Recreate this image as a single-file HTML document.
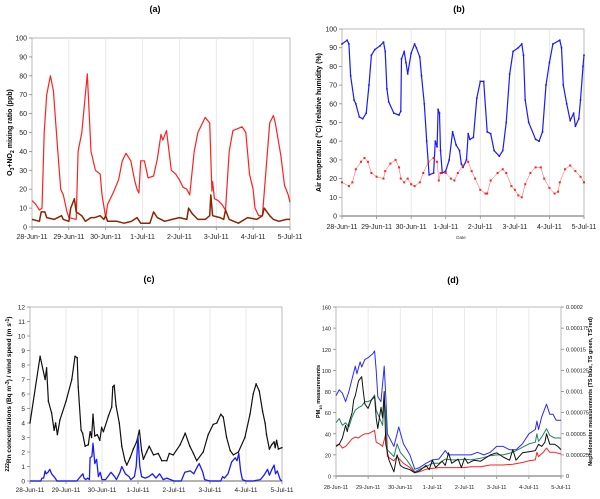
<!DOCTYPE html>
<html><head><meta charset="utf-8">
<style>
body{margin:0;background:#fff;width:600px;height:499px;overflow:hidden;font-family:"Liberation Sans",sans-serif;}
svg{display:block}
</style></head>
<body>
<svg id="fig" width="600" height="499" viewBox="0 0 600 499" xmlns="http://www.w3.org/2000/svg"></svg>
<script>
// ---- shared categories ----
const dayLabels = ["28-Jun-11","29-Jun-11","30-Jun-11","1-Jul-11","2-Jul-11","3-Jul-11","4-Jul-11","5-Jul-11"];

// ---- panel (a): O3 and NO2 (ppb) ----
const aTicks = [0,10,20,30,40,50,60,70,80,90,100];
const o3T = [0,.1,.2,.27,.33,.4,.5,.58,.7,.78,.85,.95,1.0,1.2,1.25,1.35,1.5,1.6,1.72,1.85,1.9,2.0,2.05,2.2,2.35,2.45,2.55,2.68,2.78,2.85,2.9,2.95,3.05,3.15,3.3,3.4,3.5,3.55,3.65,3.78,3.9,4.0,4.1,4.2,4.28,4.4,4.5,4.7,4.82,4.88,4.9,4.95,5.05,5.15,5.25,5.35,5.45,5.7,5.8,5.9,6.0,6.05,6.15,6.25,6.35,6.45,6.55,6.6,6.75,6.85,6.95,7.0];
const o3V = [14,12,9,10,50,70,80,72,40,20,17,8,5,4,40,50,81,40,30,28,17,5,12,18,25,35,39,35,25,20,18,35,35,26,27,36,49,46,51,30,28,25,21,20,17,40,50,58,55,19,24,15,14,12,9,40,51,53,50,28,20,10,6,6,30,55,59,55,38,22,17,13];
const no2T = [0,.2,.25,.35,.4,.6,.8,.85,1.0,1.05,1.15,1.2,1.35,1.45,1.6,1.7,1.85,1.95,2.0,2.05,2.3,2.5,2.7,2.85,2.95,3.2,3.3,3.4,3.6,3.8,4.0,4.2,4.25,4.35,4.5,4.7,4.82,4.85,4.9,5.1,5.2,5.25,5.35,5.6,5.85,6.1,6.25,6.3,6.45,6.55,6.7,6.9,7.0];
const no2V = [4,3,8,8,5,4,6,4,3,10,15,8,6,3,5,5,6,4,6,3,3,2,3,5,2,2,8,5,3,4,5,4,10,7,4,4,6,17,6,5,4,9,4,2,5,4,6,10,6,4,3,4,4];

// ---- panel (b): RH (%) and air temperature ----
const bTicks = [0,10,20,30,40,50,60,70,80,90,100];
const rhT = [0,.15,.2,.25,.35,.4,.5,.6,.7,.78,.85,.95,1.1,1.2,1.25,1.3,1.35,1.5,1.65,1.7,1.72,1.8,1.85,1.9,2.0,2.1,2.15,2.25,2.3,2.38,2.45,2.52,2.65,2.7,2.75,2.78,2.82,2.85,2.9,3.0,3.1,3.2,3.3,3.4,3.45,3.5,3.6,3.65,3.7,3.8,3.9,4.0,4.1,4.2,4.3,4.4,4.55,4.65,4.75,4.85,4.95,5.1,5.2,5.25,5.3,5.4,5.6,5.7,5.8,5.9,6.0,6.1,6.3,6.35,6.4,6.5,6.6,6.7,6.75,6.85,6.9,6.97,7.0];
const rhV = [92,94,92,75,62,60,53,52,55,70,86,89,91,93,88,68,61,55,54,56,84,88,82,76,87,92,90,85,75,60,40,22,23,40,37,57,55,35,23,24,30,45,38,35,28,26,30,44,41,42,63,72,72,45,44,35,32,35,50,76,88,90,92,86,62,50,41,40,45,70,82,92,94,90,70,60,51,55,48,52,62,80,86];
const tempT = [0,.2,.3,.4,.55,.65,.75,.85,1.0,1.2,1.25,1.4,1.55,1.65,1.7,1.8,1.9,2.0,2.1,2.25,2.35,2.5,2.65,2.75,2.8,2.85,3.0,3.15,3.25,3.35,3.5,3.65,3.75,3.85,4.0,4.15,4.2,4.3,4.5,4.65,4.75,4.9,5.0,5.1,5.2,5.3,5.45,5.6,5.75,5.85,6.0,6.15,6.25,6.3,6.45,6.6,6.75,6.9,7.0];
const tempV = [18,16,18,25,29,31,29,23,21,20,24,28,30,26,20,18,20,17,16,18,23,29,31,29,19,23,23,20,19,23,27,29,24,20,14,12,12,19,23,25,23,16,14,11,10,17,23,26,26,20,15,12,13,18,25,27,24,21,18];

// ---- panel (c): radon and wind speed ----
const cTicks = [0,1,2,3,4,5,6,7,8,9,10,11,12];
const rnT = [0,.28,.42,.46,.51,.6,.67,.71,.76,.83,1.0,1.16,1.25,1.31,1.34,1.42,1.46,1.53,1.62,1.67,1.71,1.75,1.8,1.87,1.94,1.99,2.04,2.18,2.27,2.3,2.34,2.39,2.48,2.55,2.64,2.69,2.78,2.87,2.96,3.04,3.1,3.15,3.24,3.31,3.43,3.56,3.66,3.8,3.87,3.98,4.17,4.26,4.31,4.44,4.54,4.63,4.81,4.95,5.09,5.19,5.3,5.37,5.46,5.56,5.65,5.79,5.97,6.11,6.2,6.28,6.37,6.46,6.53,6.57,6.65,6.71,6.78,6.81,6.85,6.9,7.0];
const rnV = [4,8.6,7,7.8,5.5,4.7,3.5,4,3.2,4.2,5.5,7,8.6,8.5,6.5,3.5,3.3,2.4,2.5,3.4,3,4.6,3.1,3.2,2.8,3.7,3.4,4.5,5.1,6.5,6.6,5.2,4,2.4,1.4,1.1,1.6,2.2,2.7,3.5,2.1,1.5,2,2.4,1.8,1.9,1.4,1.4,1.9,1.8,2.5,3,3.3,2.4,1.9,1.4,2,3.2,3.9,4,4.6,4.4,3,2.1,1.8,2,3,4.6,6,6.7,6.2,4.8,4,3.2,2.2,2.5,2.7,2.3,2.8,2.2,2.3];
const wsT = [0,.3,.33,.38,.42,.45,.5,.55,.6,.7,.75,1.3,1.4,1.47,1.5,1.55,1.6,1.65,1.67,1.72,1.75,1.8,1.85,1.9,1.95,2.0,2.1,2.25,2.35,2.4,2.5,2.55,2.65,2.75,2.8,2.9,2.95,3.0,3.05,3.1,3.2,3.3,3.4,3.5,3.6,3.7,3.8,4.0,4.2,4.3,4.45,4.55,4.65,4.7,4.8,4.85,5.0,5.3,5.35,5.4,5.5,5.6,5.7,5.75,5.8,5.85,5.9,6.0,6.2,6.4,6.5,6.6,6.65,6.72,6.78,6.82,6.87,6.95,7.0];
const wsV = [0,0,.2,.2,.7,.5,.6,.8,.5,.2,0,0,.3,.5,.2,.1,.2,.1,1.6,1.7,2.6,1.2,1.5,.3,.6,.1,.1,.6,.3,.1,.6,1,.5,.3,.1,.3,1,3,1,.3,.2,.3,.5,.2,.5,.1,.2,0,0,.6,.7,.5,1,1.2,.6,.1,0,0,.3,.2,.5,1.3,1.6,1.4,1.9,.7,.1,0,0,.1,.4,.8,.4,.8,1.1,.5,.7,.1,0];

// ---- panel (d): PM10 (left axis) and nephelometer (right axis, units of 1e-6) ----
const dTicks = [0,20,40,60,80,100,120,140,160];
const rTickLabels = ["0","0.000025","0.00005","0.000075","0.0001","0.000125","0.00015","0.000175","0.0002"];
const rTickVals = [0,25,50,75,100,125,150,175,200];
const pmT = [0,.1,.2,.3,.35,.4,.5,.55,.6,.7,.8,.85,.9,1.0,1.1,1.2,1.25,1.3,1.4,1.45,1.5,1.55,1.65,1.8,1.9,2.0,2.1,2.3,2.45,2.6,2.8,2.9,3.0,3.1,3.3,3.4,3.5,3.6,3.8,3.9,4.0,4.1,4.3,4.5,4.8,5.0,5.2,5.4,5.5,5.6,5.8,6.0,6.2,6.3,6.4,6.5,6.55,6.65,6.8,6.9,7.0];
const pmV = [28,30,36,48,42,50,60,72,76,90,94,80,68,64,72,75,55,45,65,55,80,30,15,4,20,10,8,6,3,5,10,6,15,8,14,10,22,12,16,8,17,12,15,14,20,22,18,15,25,15,22,23,24,30,28,32,40,30,30,28,25];
const nbT = [0,.1,.2,.3,.4,.5,.6,.65,.75,.8,.9,1.0,1.15,1.2,1.25,1.3,1.4,1.5,1.55,1.6,1.8,1.9,1.95,2.1,2.3,2.45,2.6,2.8,3.0,3.2,3.4,3.5,3.8,4.0,4.2,4.4,4.6,4.8,5.0,5.2,5.4,5.6,5.8,6.0,6.2,6.25,6.3,6.4,6.55,6.65,6.75,6.85,7.0];
const nbV = [95,102,98,88,100,115,130,121,135,129,138,140,145,148,125,94,88,130,94,50,35,50,58,38,25,8,10,15,19,20,30,25,25,25,25,28,25,28,35,35,31,31,38,50,55,65,55,70,85,73,73,66,66];
const ngT = [0,.1,.2,.3,.4,.5,.6,.7,.8,.9,1.0,1.1,1.2,1.25,1.35,1.45,1.5,1.55,1.6,1.8,1.9,2.0,2.2,2.45,2.6,2.8,3.0,3.2,3.4,3.6,3.8,4.0,4.2,4.5,4.8,5.0,5.2,5.5,5.8,6.0,6.2,6.25,6.3,6.4,6.55,6.65,6.8,7.0];
const ngV = [63,68,60,63,58,70,78,81,83,88,88,90,96,78,69,60,88,75,31,23,38,28,19,5,8,11,15,15,20,19,19,20,19,21,24,25,25,28,34,38,40,50,41,46,56,48,45,45];
const nrT = [0,.1,.2,.3,.5,.6,.7,.8,.9,1.0,1.2,1.25,1.35,1.45,1.55,1.6,1.8,1.9,2.1,2.3,2.45,2.6,2.8,3.0,3.2,3.5,3.8,4.0,4.2,4.5,4.8,5.0,5.2,5.5,5.8,6.0,6.2,6.25,6.3,6.45,6.55,6.65,6.8,7.0];
const nrV = [36,38,33,35,44,46,45,48,50,50,54,40,38,35,50,23,18,23,15,10,4,5,8,9,10,10,10,10,11,11,13,13,13,14,16,18,19,28,23,28,33,28,28,26];

const svg = document.getElementById('fig');
const NS = 'http://www.w3.org/2000/svg';
function mk(tag, attrs, parent){
  const e = document.createElementNS(NS, tag);
  for (const k in attrs) e.setAttribute(k, attrs[k]);
  (parent||svg).appendChild(e);
  return e;
}
function txt(s, attrs, parent){ const e = mk('text', attrs, parent); e.textContent = s; return e; }

function panel(cfg){
  const g = mk('g', {});
  
  
  const L=cfg.L,R=cfg.R,T=cfg.T,B=cfg.B;
  const x = d => L + (R-L)*d/7;
  const y = v => B - (B-T)*(v-cfg.ymin)/(cfg.ymax-cfg.ymin);
  cfg.x=x; cfg.y=y;
  // title
  const t = txt(cfg.title, {x:cfg.titleX, y:cfg.titleY, 'font-size':9, 'font-weight':'bold','text-anchor':'middle', fill:'#000'}, g);
  
  
  // plot frame
  const fr = mk('rect', {x:L, y:T, width:R-L, height:B-T, fill:'#fff', stroke:'#aaa', 'stroke-width':0.8}, g);
  
  
  // vertical gridlines + x labels
  dayLabels.forEach((lab,i)=>{
    if (i>0 && i<7) {
      const gl = mk('line', {x1:x(i), x2:x(i), y1:T, y2:B, stroke:'#e4e4e4', 'stroke-width':0.8}, g);
      
      
    }
    mk('line', {x1:x(i), x2:x(i), y1:B, y2:B+3, stroke:'#888', 'stroke-width':0.8}, g);
    const xl = txt(lab, {x:x(i), y:B+cfg.xlabOff, 'font-size':cfg.fs, 'text-anchor':'middle', fill:'#222'}, g);
    
    
  });
  mk('line', {x1:L, x2:R, y1:B, y2:B, stroke:'#999', 'stroke-width':1.6}, g);
  // y ticks
  cfg.ticks.forEach(v=>{
    mk('line', {x1:L-3, x2:L, y1:y(v), y2:y(v), stroke:'#888', 'stroke-width':0.8}, g);
    const yl = txt(String(v), {x:L-5, y:y(v)+2.5, 'font-size':cfg.fs, 'text-anchor':'end', fill:'#222'}, g);
    
    
  });
  // y title
  const yt = txt('', {transform:`translate(${cfg.ytX},${(T+B)/2}) rotate(-90)`, 'font-size':cfg.ytFs, 'font-weight':'bold', 'text-anchor':'middle', fill:'#000'}, g);
  yt.innerHTML = cfg.ytitle;
  
  
  return g;
}
function series(g, cfg, T, V, color, name, opts, yfn){
  opts = opts||{};
  const yy = yfn || cfg.y;
  const pts = T.map((t,i)=> `${cfg.x(t).toFixed(1)},${yy(V[i]).toFixed(1)}`).join(' ');
  const pl = mk('polyline', {points:pts, fill:'none', stroke:color, 'stroke-width':opts.w||1.2, 'stroke-linejoin':'round'}, g);
  
  
  if (opts.dots){
    T.forEach((t,i)=>{
      const c = mk('rect', {x:cfg.x(t)-opts.dots/2, y:yy(V[i])-opts.dots/2, width:opts.dots, height:opts.dots, fill:color}, g);
      
      
    });
  }
}

// (a)
const A = {name:'panel-a', L:32, R:290, T:38, B:227, ymin:0, ymax:100, ticks:aTicks, title:'(a)', titleX:155, titleY:12, fs:7, xlabOff:12, ytX:12, ytFs:7,
  ytitle:'O<tspan font-size="5" dy="2">3</tspan><tspan dy="-2">+NO</tspan><tspan font-size="5" dy="2">2</tspan><tspan dy="-2"> mixing ratio (ppb)</tspan>'};
const gA = panel(A);
series(gA, A, o3T, o3V, '#ff2020', 'o3-line');
series(gA, A, no2T, no2V, '#8b2500', 'no2-line', {w:1.5});

// (b)
const Bp = {name:'panel-b', L:342, R:584, T:29, B:216, ymin:0, ymax:100, ticks:bTicks, title:'(b)', titleX:459, titleY:12, fs:7, xlabOff:13, ytX:321, ytFs:7,
  ytitle:'Air temperature (°C) /relative humidity (%)'};
const gB = panel(Bp);
series(gB, Bp, rhT, rhV, '#1a1aff', 'relative-humidity-line', {w:1.2, dots:1.6});
series(gB, Bp, tempT, tempV, '#ff2020', 'air-temperature-line', {w:0.4, dots:2});
const dl = txt('Date', {x:461, y:239, 'font-size':4.5, 'text-anchor':'middle', fill:'#333'}, gB);



// (c)
const C = {name:'panel-c', L:30, R:282, T:307, B:481, ymin:0, ymax:12, ticks:cTicks, title:'(c)', titleX:149, titleY:282, fs:6.5, xlabOff:11, ytX:11, ytFs:6.5,
  ytitle:'<tspan font-size="5" dy="-2">222</tspan><tspan dy="2">Rn concentrations (Bq m</tspan><tspan font-size="5" dy="-2">-3</tspan><tspan dy="2">) / wind speed (m s</tspan><tspan font-size="5" dy="-2">-1</tspan><tspan dy="2">)</tspan>'};
const gC = panel(C);
series(gC, C, rnT, rnV, '#111', 'radon-line', {w:1.2, dots:1.3});
series(gC, C, wsT, wsV, '#1a1aff', 'wind-speed-line', {w:1.3});

// (d)
const D = {name:'panel-d', L:336, R:561, T:307, B:476, ymin:0, ymax:160, ticks:dTicks, title:'(d)', titleX:453, titleY:283, fs:5.5, xlabOff:13, ytX:320, ytFs:5.5,
  ytitle:'PM<tspan font-size="4" dy="2">10</tspan><tspan dy="-2"> measurements</tspan>'};
const gD = panel(D);
const yR = v => D.B - (D.B-D.T)*v/200;
rTickVals.forEach((v,i)=>{
  mk('line', {x1:D.R, x2:D.R+3, y1:yR(v), y2:yR(v), stroke:'#888', 'stroke-width':0.8}, gD);
  const rl = txt(rTickLabels[i], {x:D.R+5, y:yR(v)+2, 'font-size':5.5, fill:'#222'}, gD);
  
  
});
const ryt = txt('Nephelometer measurements (TS blue, TS green, TS red)', {transform:`translate(592,${(D.T+D.B)/2}) rotate(-90)`, 'font-size':5.5, 'font-weight':'bold', 'text-anchor':'middle', fill:'#000'}, gD);


series(gD, D, nbT, nbV, '#2a2aff', 'ts-blue-line', {w:1}, yR);
series(gD, D, ngT, ngV, '#1f7f60', 'ts-green-line', {w:1}, yR);
series(gD, D, nrT, nrV, '#ff2020', 'ts-red-line', {w:1}, yR);
series(gD, D, pmT, pmV, '#111', 'pm10-line', {w:1});
</script>
</body></html>
